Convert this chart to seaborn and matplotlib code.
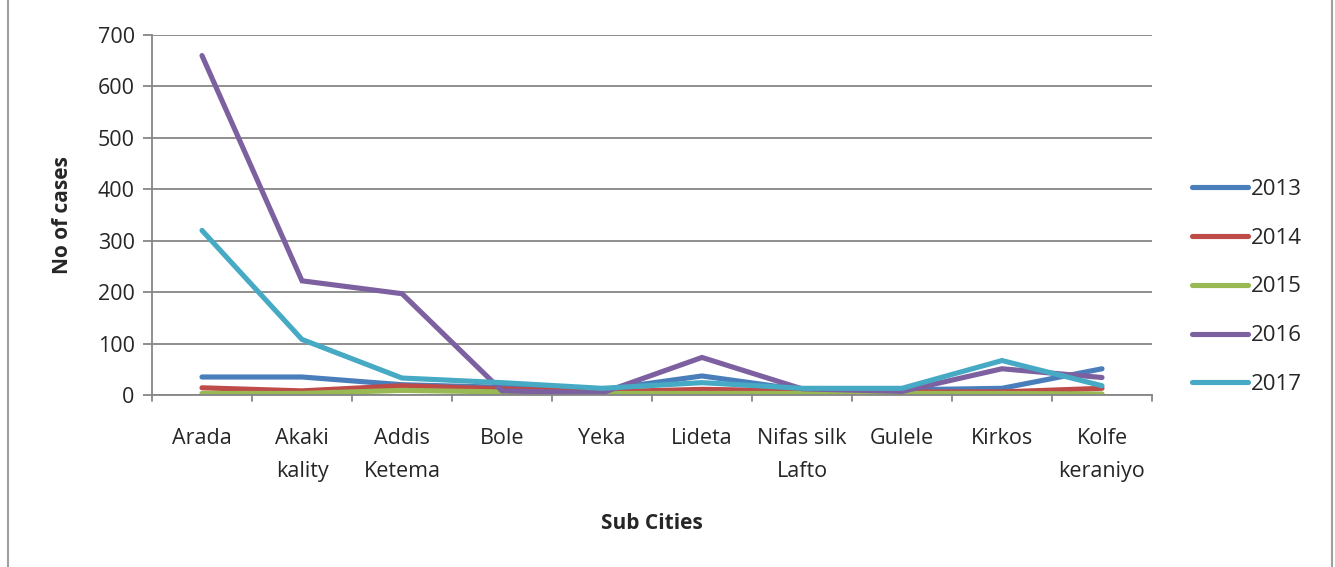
import matplotlib
matplotlib.use("Agg")
import matplotlib.pyplot as plt
from matplotlib.lines import Line2D
import seaborn as sns
import pandas as pd

sub_cities = ["Arada", "Akaki\nkality", "Addis\nKetema", "Bole", "Yeka", "Lideta",
              "Nifas silk\nLafto", "Gulele", "Kirkos", "Kolfe\nkeraniyo"]
years = ["2013", "2014", "2015", "2016", "2017"]
cases_2013 = [35, 35, 20, 15, 10, 37, 10, 10, 13, 51]
cases_2014 = [14, 8, 18, 12, 6, 11, 8, 6, 6, 13]
cases_2015 = [3, 3, 9, 6, 3, 3, 3, 3, 3, 2]
cases_2016 = [660, 222, 197, 8, 4, 73, 12, 7, 51, 34]
cases_2017 = [320, 108, 33, 24, 13, 24, 13, 13, 67, 18]
colors = ["#4A7EBB", "#BE4B48", "#98B954", "#7D60A0", "#46AAC5"]

series = [cases_2013, cases_2014, cases_2015, cases_2016, cases_2017]
df = pd.DataFrame(
    [(c, y, v) for y, vals in zip(years, series) for c, v in zip(sub_cities, vals)],
    columns=["Sub City", "Year", "Cases"],
)

sns.set_theme(style="white")
plt.rcParams["font.family"] = ["Open Sans", "DejaVu Sans"]

FS = 15.5
fig = plt.figure(figsize=(13.35, 5.67), dpi=100)
ax = fig.add_axes([152 / 1335, 1 - 395 / 567, 1000 / 1335, 360 / 567])

sns.lineplot(data=df, x="Sub City", y="Cases", hue="Year", palette=colors,
             sort=False, linewidth=3.7, ax=ax, legend=True)
for line in ax.get_lines():
    line.set_solid_capstyle("round")
    line.set_solid_joinstyle("miter")

grid_c = "#868686"
ax.set_ylim(0, 700)
ax.set_yticks(range(0, 701, 100))
ax.set_xlim(-0.5, len(sub_cities) - 0.5)
ax.set_xticks(range(len(sub_cities)))
ax.set_xticklabels(sub_cities, fontsize=FS, linespacing=1.7)
ax.tick_params(axis="y", labelsize=FS, length=6.5, width=1.3, color=grid_c,
               direction="out", left=True, pad=6)
ax.tick_params(axis="x", length=0, pad=24)
# tick marks on the category boundaries
for b in [i - 0.5 for i in range(len(sub_cities) + 1)]:
    ax.plot([b, b], [0, -12], color=grid_c, lw=1.3, clip_on=False)
ax.yaxis.grid(True, color=grid_c, lw=1.3)
ax.set_axisbelow(True)
for s in ["top", "right"]:
    ax.spines[s].set_visible(False)
for s in ["left", "bottom"]:
    ax.spines[s].set_color(grid_c)
    ax.spines[s].set_linewidth(1.3)

ax.set_xlabel("Sub Cities", fontsize=FS - 0.5, fontweight="bold", labelpad=23)
ax.set_ylabel("No of cases", fontsize=FS - 0.5, fontweight="bold", labelpad=18)

handles, labels = ax.get_legend_handles_labels()
ax.legend(handles, labels, loc="center left", bbox_to_anchor=(1172 / 1335, 1 - 287 / 567),
          bbox_transform=fig.transFigure, frameon=False, fontsize=FS + 0.5,
          handlelength=2.5, handletextpad=0.15, labelspacing=1.25)

# outer chart frame: vertical edges
for xf in (8 / 1335, 1332 / 1335):
    fig.add_artist(Line2D([xf, xf], [0, 1], transform=fig.transFigure,
                          color="#A0A0A0", lw=1.5))

fig.savefig("out.png", dpi=100)
